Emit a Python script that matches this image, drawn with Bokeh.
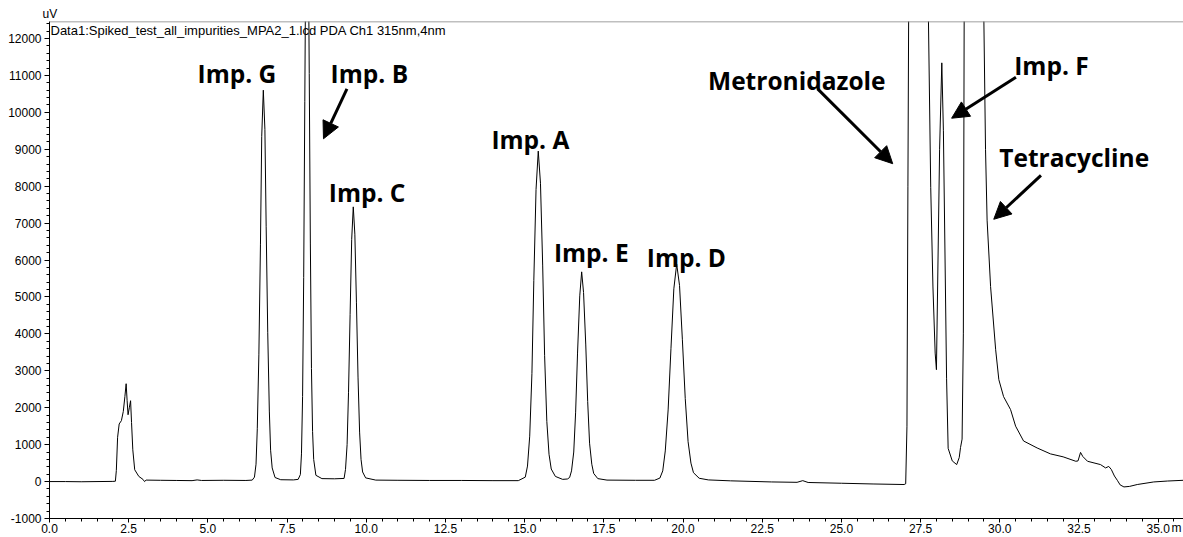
from bokeh.plotting import figure
from bokeh.models import (ColumnDataSource, SingleIntervalTicker, PrintfTickFormatter,
                          Arrow, NormalHead, Label, Span, Title)
from bokeh.core.properties import value
from bokeh.embed import file_html
from bokeh.resources import INLINE

# Chromatogram trace: retention time (min) and signal (uV)
time_min = [0.0, 0.5, 1.0, 1.5, 2.0, 2.08, 2.11, 2.15, 2.20, 2.27, 2.33, 2.38, 2.42, 2.45,
            2.48, 2.52, 2.56, 2.59, 2.63, 2.69, 2.82, 2.95, 3.00, 3.05, 3.5, 4.0, 4.5, 4.66,
            4.8, 5.5, 6.2, 6.40, 6.47, 6.52, 6.56, 6.61, 6.66, 6.70, 6.75, 6.80, 6.84, 6.89,
            6.94, 6.98, 7.03, 7.12, 7.30, 7.70, 7.85, 7.92, 7.955, 7.99, 8.025, 8.06, 8.095,
            8.13, 8.165, 8.20, 8.235, 8.27, 8.305, 8.34, 8.41, 8.6, 9.0, 9.30, 9.345, 9.395,
            9.44, 9.49, 9.54, 9.59, 9.64, 9.69, 9.74, 9.79, 9.835, 9.885, 9.98, 10.3, 11.0,
            12.0, 13.0, 14.0, 14.8, 15.02, 15.09, 15.16, 15.23, 15.29, 15.36, 15.43, 15.50,
            15.57, 15.63, 15.70, 15.77, 15.84, 15.97, 16.2, 16.35, 16.42, 16.48, 16.55, 16.61,
            16.67, 16.74, 16.80, 16.86, 16.93, 16.99, 17.05, 17.12, 17.18, 17.31, 17.6, 18.5,
            19.1, 19.27, 19.36, 19.44, 19.53, 19.62, 19.71, 19.80, 19.89, 19.98, 20.07, 20.16,
            20.25, 20.33, 20.51, 20.8, 21.5, 22.8, 23.6, 23.78, 23.95, 25.0, 26.0, 26.98,
            27.03, 27.07, 27.10, 27.13, 27.2, 27.45, 27.65, 27.74, 27.82, 27.89, 27.96, 28.00,
            28.05, 28.10, 28.17, 28.22, 28.27, 28.32, 28.37, 28.5, 28.64, 28.72, 28.76, 28.81,
            28.85, 28.88, 29.1, 29.4, 29.49, 29.55, 29.60, 29.71, 29.87, 29.97, 30.12, 30.34,
            30.5, 30.75, 31.18, 31.6, 32.0, 32.4, 32.47, 32.55, 32.62, 32.77, 33.18, 33.34,
            33.44, 33.52, 33.62, 33.71, 33.8, 33.92, 34.1, 34.34, 34.86, 35.3, 35.8]
signal_uv = [0, 0, -5, 0, 5, 10, 300, 1200, 1560, 1650, 1900, 2300, 2650, 2200,
             1810, 2000, 2190, 1600, 860, 320, 140, 60, 0, 40, 35, 30, 25, 45,
             30, 35, 30, 40, 120, 470, 1430, 3450, 6430, 9350, 10600, 9540, 6900, 4030,
             1910, 850, 370, 110, 50, 45, 60, 190, 750, 2300, 5530, 10300, 15000,
             17000, 15300, 11050, 6460, 3060, 1360, 600, 170, 80, 75, 85, 330, 1000,
             2420, 4520, 6560, 7440, 6700, 4840, 2830, 1340, 600, 260, 100, 40, 35,
             30, 30, 25, 25, 120, 420, 1230, 2930, 5450, 7910, 8950, 8080,
             5840, 3420, 1630, 740, 340, 140, 60, 70, 110, 290, 800, 1880,
             3480, 5030, 5680, 5120, 3700, 2170, 1040, 470, 220, 80, 40, 35,
             35, 95, 290, 830, 1940, 3610, 5220, 5890, 5310, 3840, 2250, 1080,
             500, 240, 90, 45, 20, -10, -20, 25, -25, -45, -65, -80,
             -60, 1500, 8000, 14000, 35000, 50000, 35000, 13000, 7970, 5270, 3480, 3030,
             6000, 9000, 11340, 9500, 6190, 2800, 900, 560, 460, 650, 920, 1150,
             4000, 14000, 50000, 30000, 13000, 9000, 7080, 5280, 3570, 2760, 2300, 1950,
             1500, 1100, 910, 750, 670, 550, 560, 790, 680, 550, 460, 370,
             410, 330, 150, 35, -90, -145, -130, -80, -10, 15, 35]

# Peak labels
label_text = ["Imp. G", "Imp. B", "Imp. C", "Imp. A", "Imp. E", "Imp. D",
              "Metronidazole", "Imp. F", "Tetracycline"]
label_x = [4.675, 8.875, 8.819, 13.951, 15.925, 18.857, 20.79, 30.457, 29.984]
label_y = [11040, 11040, 7842, 9265, 6205, 6070, 10859, 11264, 8787]

# Arrows: tail (x0, y0) -> tip (x1, y1)
arrow_x0 = [9.39, 24.25, 30.51, 31.30]
arrow_y0 = [10635, 10635, 10948, 8293]
arrow_x1 = [8.65, 26.62, 28.48, 29.81]
arrow_y1 = [9284, 8609, 9841, 7104]

title_text = "Data1:Spiked_test_all_impurities_MPA2_1.lcd PDA Ch1 315nm,4nm"
x_unit = "m"
x_start, x_end = 0.0, 35.8
y_start, y_end = -1000, 12460

p = figure(width=1183, height=537, x_range=(x_start, x_end), y_range=(y_start, y_end),
           output_backend="svg", toolbar_location=None,
           min_border_left=49, min_border_right=0, min_border_top=21, min_border_bottom=18)
p.background_fill_color = "white"
p.border_fill_color = "white"
p.outline_line_color = None
p.xgrid.visible = False
p.ygrid.visible = False

# unit of the y axis, shown above the axis top
p.title = Title(text="uV", align="left", offset=-7, standoff=1,
                text_font="Liberation Sans", text_font_size="12px",
                text_font_style="normal", text_color="black")

src = ColumnDataSource(dict(t=time_min, s=signal_uv))
p.line("t", "s", source=src, line_color="black", line_width=1)

for ax in (p.xaxis[0], p.yaxis[0]):
    ax.axis_line_color = "black"
    ax.major_tick_line_color = "black"
    ax.minor_tick_line_color = "black"
    ax.major_tick_in = 0
    ax.minor_tick_in = 0
    ax.major_label_text_font = "Liberation Sans"
    ax.major_label_text_font_size = "12px"
    ax.major_label_text_color = "black"

xa = p.xaxis[0]
xa.ticker = SingleIntervalTicker(interval=2.5, num_minor_ticks=5)
xa.formatter = PrintfTickFormatter(format="%.1f")
xa.major_tick_out = 4
xa.minor_tick_out = 3
xa.major_label_standoff = 1
# the unit sits at the right end of the tick-label row: pad the centred label
xa.axis_label = "\u00a0" * 336 + x_unit
xa.axis_label_text_font = "Liberation Sans"
xa.axis_label_text_font_size = "12px"
xa.axis_label_text_font_style = "normal"
xa.axis_label_text_color = "black"
xa.axis_label_standoff = -15

ya = p.yaxis[0]
ya.ticker = SingleIntervalTicker(interval=1000, num_minor_ticks=5)
ya.formatter = PrintfTickFormatter(format="%d")
ya.major_tick_out = 5
ya.minor_tick_out = 3
ya.major_label_standoff = 3

p.add_layout(Span(location=y_end, dimension="width", line_color="#808080", line_width=1.5))

lsrc = ColumnDataSource(dict(x=label_x, y=label_y, text=label_text))
p.text("x", "y", text="text", source=lsrc, text_font=value("Open Sans"),
       text_font_style="bold", text_font_size="24.5px", text_color="black",
       text_baseline="alphabetic", text_align="left")

for x0, y0, x1, y1 in zip(arrow_x0, arrow_y0, arrow_x1, arrow_y1):
    p.add_layout(Arrow(end=NormalHead(size=17, fill_color="black", line_color="black"),
                       x_start=x0, y_start=y0, x_end=x1, y_end=y1,
                       line_color="black", line_width=3))

p.add_layout(Label(x=x_start, y=y_end, text=title_text, x_offset=1, y_offset=-1,
                   text_baseline="top", text_font="Liberation Sans",
                   text_font_size="13px", text_color="black"))

open("out.html", "w").write(file_html(p, INLINE))
